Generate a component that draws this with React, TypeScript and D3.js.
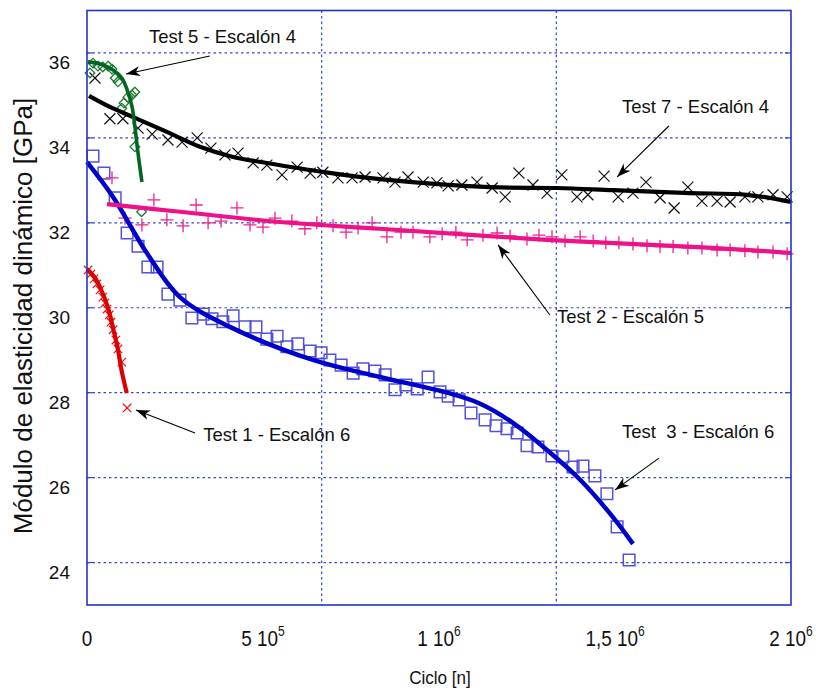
import React from 'react';
import * as d3 from 'd3';

const W = 816;
const H = 690;

const xDomain: [number, number] = [0, 2000000];
const yDomain: [number, number] = [23, 37];
const yTicks = [24, 26, 28, 30, 32, 34, 36];
const xTickValues = [0, 500000, 1000000, 1500000, 2000000];
const xTickMantissa = ['0', '5 10', '1 10', '1,5 10', '2 10'];
const xTickExponent = ['', '5', '6', '6', '6'];
const xGridValues = [666667, 1333333];

// Test 3 - Escalón 6 (blue squares)
const test3Points: [number, number][] = [
  [17000, 33.57], [48000, 33.17], [80000, 32.59], [114000, 31.76], [145000, 31.45], [173000, 30.96],
  [199000, 30.96], [230000, 30.32], [264000, 30.18], [298000, 29.76], [330000, 29.85], [355000, 29.74],
  [386000, 29.67], [415000, 29.81], [449000, 29.55], [480000, 29.55], [511000, 29.26], [540000, 29.33],
  [568000, 29.08], [599000, 29.15], [634000, 28.98], [665000, 28.94], [690000, 28.77], [722000, 28.65],
  [756000, 28.46], [784000, 28.56], [818000, 28.51], [847000, 28.42], [875000, 28.07], [906000, 28.18],
  [938000, 28.09], [969000, 28.37], [1003000, 28.02], [1026000, 27.92], [1057000, 27.83], [1091000, 27.52],
  [1131000, 27.36], [1162000, 27.22], [1193000, 27.15], [1222000, 27.05], [1250000, 26.75], [1281000, 26.72],
  [1321000, 26.51], [1352000, 26.49], [1381000, 26.25], [1409000, 26.27], [1443000, 26.04], [1477000, 25.62],
  [1506000, 24.84], [1540000, 24.06],
];
const test3Fit: [number, number][] = [
  [0, 33.43], [74000, 32.61], [170000, 31.29], [264000, 30.25], [406000, 29.55], [642000, 28.77],
  [832000, 28.37], [1023000, 28.0], [1117000, 27.74], [1210000, 27.29], [1307000, 26.65], [1401000, 25.95],
  [1494000, 25.07], [1551000, 24.44],
];

// Test 7 - Escalón 4 (black crosses)
const test7Points: [number, number][] = [
  [22700, 35.41], [65000, 34.45], [102000, 34.45], [145000, 34.23], [185000, 34.09], [230000, 33.95],
  [270000, 33.90], [313000, 34.0], [352000, 33.76], [392000, 33.60], [429000, 33.64], [472000, 33.41],
  [511000, 33.36], [554000, 33.13], [597000, 33.31], [634000, 33.17], [670000, 33.19], [713000, 33.06],
  [753000, 33.06], [790000, 33.08], [841000, 33.06], [875000, 32.96], [912000, 33.08], [955000, 32.96],
  [994000, 32.94], [1026000, 32.87], [1065000, 32.89], [1108000, 32.96], [1151000, 32.82], [1188000, 32.61],
  [1227000, 33.17], [1267000, 32.89], [1307000, 32.70], [1349000, 33.13], [1392000, 32.61], [1423000, 32.66],
  [1469000, 33.10], [1509000, 32.61], [1551000, 32.70], [1588000, 32.96], [1628000, 32.59], [1668000, 32.35],
  [1707000, 32.84], [1747000, 32.51], [1790000, 32.51], [1827000, 32.49], [1869000, 32.61], [1906000, 32.61],
  [1949000, 32.66], [1989000, 32.61],
];
const test7Fit: [number, number][] = [
  [5700, 34.99], [65000, 34.73], [131000, 34.49], [227000, 34.14], [321000, 33.79], [415000, 33.55],
  [511000, 33.41], [670000, 33.20], [832000, 33.03], [1145000, 32.84], [1335000, 32.82], [1494000, 32.77],
  [1713000, 32.70], [1875000, 32.66], [2000000, 32.49],
];

// Test 2 - Escalón 5 (pink plus)
const test2Points: [number, number][] = [
  [71000, 33.06], [108000, 32.11], [156000, 31.95], [190000, 32.54], [227000, 32.07], [273000, 31.93],
  [310000, 32.42], [344000, 32.0], [381000, 32.04], [426000, 32.35], [463000, 31.95], [500000, 31.90],
  [534000, 32.11], [582000, 32.04], [619000, 31.86], [653000, 32.0], [699000, 31.93], [736000, 31.78],
  [770000, 31.88], [810000, 32.0], [852000, 31.67], [892000, 31.78], [926000, 31.78], [974000, 31.67],
  [1009000, 31.74], [1048000, 31.78], [1080000, 31.60], [1125000, 31.71], [1165000, 31.76], [1202000, 31.69],
  [1250000, 31.62], [1284000, 31.71], [1321000, 31.67], [1358000, 31.57], [1401000, 31.67], [1438000, 31.57],
  [1474000, 31.53], [1511000, 31.53], [1551000, 31.50], [1591000, 31.46], [1628000, 31.44], [1665000, 31.44],
  [1707000, 31.41], [1747000, 31.41], [1790000, 31.36], [1827000, 31.36], [1869000, 31.34], [1906000, 31.31],
  [1949000, 31.31], [1989000, 31.27],
];
const test2Fit: [number, number][] = [
  [57000, 32.44], [264000, 32.26], [548000, 32.02], [832000, 31.86], [1307000, 31.60], [1778000, 31.41],
  [2000000, 31.29],
];

// Test 5 - Escalón 4 (green diamonds)
const test5Points: [number, number][] = [
  [8500, 35.53], [17000, 35.76], [31000, 35.69], [45000, 35.67], [60000, 35.69], [71000, 35.62],
  [80000, 35.41], [88000, 35.32], [99000, 34.70], [105000, 34.82], [116000, 34.96], [128000, 35.01],
  [136000, 35.08], [136000, 33.79], [155000, 32.26],
];
const test5Fit: [number, number][] = [
  [2800, 35.79], [37000, 35.74], [74000, 35.60], [99000, 35.41], [114000, 35.13], [128000, 34.73],
  [136000, 34.26], [145000, 33.64], [156000, 32.96],
];

// Test 1 - Escalón 6 (red crosses)
const test1Points: [number, number][] = [
  [3000, 30.89], [11000, 30.79], [20000, 30.68], [28000, 30.56], [37000, 30.42], [45000, 30.25],
  [51000, 30.11], [57000, 29.97], [63000, 29.83], [68000, 29.66], [74000, 29.48], [82000, 29.24],
  [88000, 29.03], [99000, 28.72], [114000, 27.64],
];
const test1Fit: [number, number][] = [
  [0, 30.91], [23000, 30.70], [43000, 30.37], [60000, 29.99], [74000, 29.52], [88000, 29.01],
  [99000, 28.49], [113000, 27.99],
];

// Annotations: label anchor (data coords), arrow start and arrow tip (data coords)
const annotationLabels = ['Test 5 - Escalón 4', 'Test 7 - Escalón 4', 'Test 2 - Escalón 5', 'Test 1 - Escalón 6', 'Test  3 - Escalón 6'];
const annotationAnchors: [number, number][] = [[176000, 36.235], [1520000, 34.59], [1335000, 29.64], [330000, 26.86], [1520000, 26.93]];
const arrowStarts: [number, number][] = [[349000, 35.93], [1653000, 34.28], [1315000, 29.83], [307000, 27.05], [1625000, 26.46]];
const arrowTips: [number, number][] = [[111000, 35.505], [1506000, 33.08], [1168000, 31.48], [139000, 27.59], [1500000, 25.71]];

const FONT = '"Liberation Sans", Arial, Helvetica, sans-serif';

function marker(kind: string, cx: number, cy: number, s: number): string {
  if (kind === 'square') return `M${cx - s},${cy - s}H${cx + s}V${cy + s}H${cx - s}Z`;
  if (kind === 'x') return `M${cx - s},${cy - s}L${cx + s},${cy + s}M${cx - s},${cy + s}L${cx + s},${cy - s}`;
  if (kind === 'plus') return `M${cx - s},${cy}H${cx + s}M${cx},${cy - s}V${cy + s}`;
  return `M${cx},${cy - s}L${cx + s},${cy}L${cx},${cy + s}L${cx - s},${cy}Z`;
}

function arrowHead(x0: number, y0: number, x1: number, y1: number): string {
  const dx = x1 - x0, dy = y1 - y0;
  const len = Math.hypot(dx, dy);
  const ux = dx / len, uy = dy / len;
  const nx = -uy, ny = ux;
  const L = 14, w = 5, notch = 4;
  const p1 = [x1 - L * ux + w * nx, y1 - L * uy + w * ny];
  const p2 = [x1 - (L - notch) * ux, y1 - (L - notch) * uy];
  const p3 = [x1 - L * ux - w * nx, y1 - L * uy - w * ny];
  return `M${x1},${y1}L${p1[0]},${p1[1]}L${p2[0]},${p2[1]}L${p3[0]},${p3[1]}Z`;
}

export default function App() {
  const left = 87, right = 791, top = 10.5, bottom = 605;
  const x = d3.scaleLinear().domain(xDomain).range([left, right]);
  const y = d3.scaleLinear().domain(yDomain).range([bottom, top]);
  const line = d3.line<[number, number]>().x(d => x(d[0])).y(d => y(d[1])).curve(d3.curveCatmullRom.alpha(0.5));

  const series = [
    { pts: test3Points, fit: test3Fit, kind: 'square', ms: 5.8, mc: '#3434d8', mw: 1.5, lc: '#0000cc', lw: 4.5, mo: 0.85 },
    { pts: test7Points, fit: test7Fit, kind: 'x', ms: 5.5, mc: '#111111', mw: 1.2, lc: '#000000', lw: 4.2, mo: 1 },
    { pts: test2Points, fit: test2Fit, kind: 'plus', ms: 6.5, mc: '#ee2290', mw: 1.3, lc: '#ee1188', lw: 4.2, mo: 1 },
    { pts: test5Points, fit: test5Fit, kind: 'diamond', ms: 4.8, mc: '#1a7a30', mw: 1.3, lc: '#006620', lw: 3.6, mo: 1 },
    { pts: test1Points, fit: test1Fit, kind: 'x', ms: 4.2, mc: '#ee1111', mw: 1.2, lc: '#dd0000', lw: 4.2, mo: 1 },
  ];

  const gridColor = '#3344dd';

  return (
    <svg width={W} height={H} style={{ position: 'absolute', left: 0, top: 0, background: '#fff' }} fontFamily={FONT}>
      <rect x={0} y={0} width={W} height={H} fill="#fff" />
      {yTicks.map(t => (
        <line key={'gy' + t} x1={left} x2={right} y1={y(t)} y2={y(t)} stroke={gridColor} strokeWidth={1.2} strokeDasharray="2.5,3" />
      ))}
      {xGridValues.map(v => (
        <line key={'gx' + v} x1={x(v)} x2={x(v)} y1={top} y2={bottom} stroke={gridColor} strokeWidth={1.2} strokeDasharray="2.5,3" />
      ))}
      {yTicks.map(t => (
        <g key={'ty' + t}>
          <line x1={left} x2={left + 6} y1={y(t)} y2={y(t)} stroke={gridColor} strokeWidth={1.2} />
          <line x1={right - 6} x2={right} y1={y(t)} y2={y(t)} stroke={gridColor} strokeWidth={1.2} />
        </g>
      ))}
      {series.map((s, i) => (
        <g key={'m' + i} fill="none" stroke={s.mc} strokeWidth={s.mw} opacity={s.mo}>
          {s.pts.map((p, j) => (
            <path key={j} d={marker(s.kind, x(p[0]), y(p[1]), s.ms)} />
          ))}
        </g>
      ))}
      {series.map((s, i) => (
        <path key={'f' + i} d={line(s.fit) || ''} fill="none" stroke={s.lc} strokeWidth={s.lw} strokeLinecap="butt" />
      ))}
      <rect x={left} y={top} width={right - left} height={bottom - top} fill="none" stroke="#2233cc" strokeWidth={1.6} />
      {yTicks.map(t => (
        <text key={'yl' + t} x={70} y={y(t) + 16.5} textAnchor="end" fontSize={19} fill="#111">{t}</text>
      ))}
      {xTickValues.map((v, i) => (
        <text key={'xl' + v} transform={`translate(${x(v)},646) scale(0.86,1)`} textAnchor="middle" fontSize={22} fill="#111">
          {xTickMantissa[i]}
          {xTickExponent[i] && <tspan dy={-10} fontSize={14}>{xTickExponent[i]}</tspan>}
        </text>
      ))}
      <text transform="translate(440,684) scale(0.9,1)" textAnchor="middle" fontSize={19} fill="#111">Ciclo [n]</text>
      <text transform="translate(32,316) rotate(-90)" textAnchor="middle" fontSize={26} fill="#111">Módulo de elasticidad dinámico [GPa]</text>
      {annotationLabels.map((lab, i) => {
        const x0 = x(arrowStarts[i][0]), y0 = y(arrowStarts[i][1]);
        const x1 = x(arrowTips[i][0]), y1 = y(arrowTips[i][1]);
        return (
          <g key={'a' + i}>
            <text x={x(annotationAnchors[i][0])} y={y(annotationAnchors[i][1])} fontSize={18.5} fill="#111" style={{ whiteSpace: 'pre' }}>{lab}</text>
            <line x1={x0} y1={y0} x2={x1} y2={y1} stroke="#000" strokeWidth={1.1} />
            <path d={arrowHead(x0, y0, x1, y1)} fill="#000" />
          </g>
        );
      })}
    </svg>
  );
}
